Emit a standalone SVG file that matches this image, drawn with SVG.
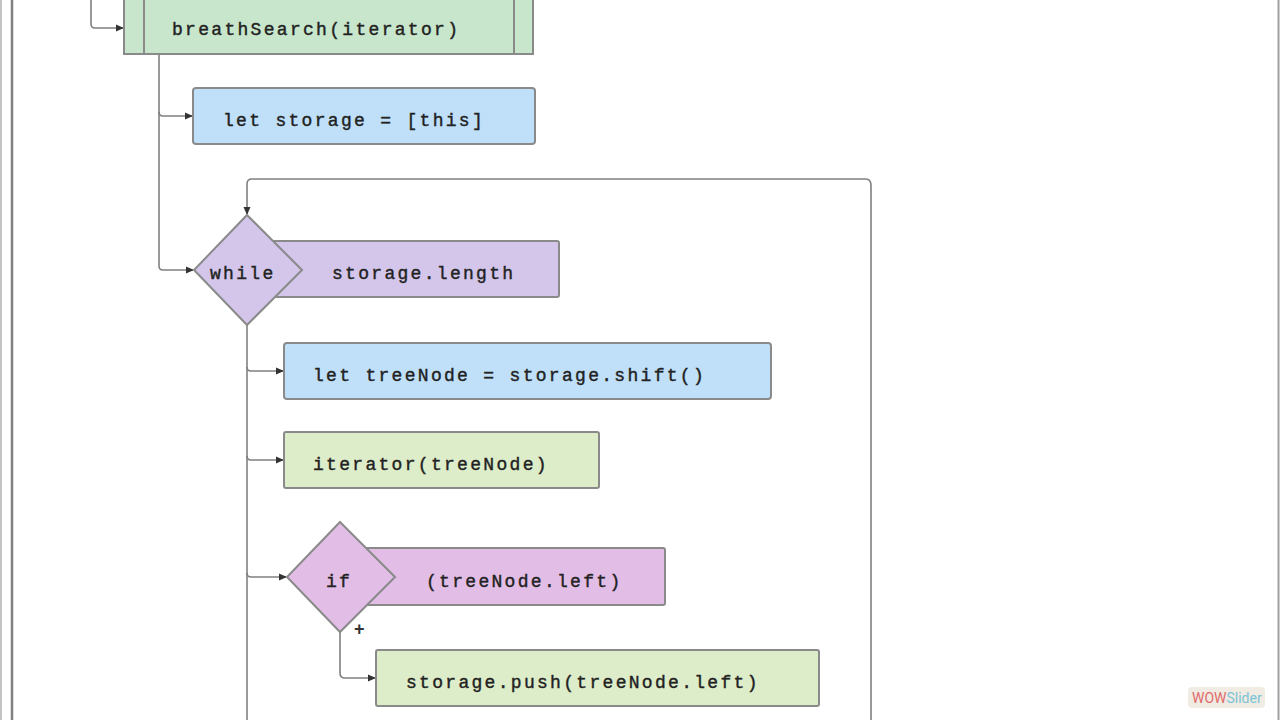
<svg xmlns="http://www.w3.org/2000/svg" width="1280" height="720" viewBox="0 0 1280 720">
<defs>
<marker id="arr" markerWidth="8" markerHeight="8" refX="7" refY="4" orient="auto" markerUnits="userSpaceOnUse">
<path d="M0,0.5 L8,4 L0,7.5 Z" fill="#333"/>
</marker>
<style>
.box{stroke:#8a8a8a;stroke-width:2}
.blue{fill:#bfe0f8}
.green{fill:#deedc9}
.fn{fill:#c8e6cb}
.purple{fill:#d3c6ea}
.pink{fill:#e2bde6}
.t{font-family:"Liberation Mono","DejaVu Sans Mono",monospace;font-size:18px;letter-spacing:2.3px;fill:#222;stroke:#222;stroke-width:0.4}
.c{fill:none;stroke:#808080;stroke-width:1.6}
</style>
</defs>
<rect width="1280" height="720" fill="#fff"/>
<line x1="1" y1="0" x2="1" y2="720" stroke="#b0b0b0" stroke-width="1.5"/>
<line x1="12" y1="0" x2="12" y2="720" stroke="#808080" stroke-width="2.5"/>
<line x1="1278.5" y1="0" x2="1278.5" y2="720" stroke="#a0a0a0" stroke-width="2"/>

<g id="connectors">
<path class="c" d="M91,0 V24 Q91,28 95,28 H123" marker-end="url(#arr)"/>
<path class="c" d="M159,55 V266 Q159,270 163,270 H193" marker-end="url(#arr)"/>
<path class="c" d="M159,112 Q159,116 163,116 H192" marker-end="url(#arr)"/>
<path class="c" d="M871,720 V186 Q871,179 866,179 H252 Q247,179 247,184 V214" marker-end="url(#arr)"/>
<path class="c" d="M247,325 V720"/>
<path class="c" d="M247,367 Q247,371 251,371 H283" marker-end="url(#arr)"/>
<path class="c" d="M247,456 Q247,460 251,460 H283" marker-end="url(#arr)"/>
<path class="c" d="M247,573 Q247,577 251,577 H286" marker-end="url(#arr)"/>
<path class="c" d="M340,632 V673 Q340,678 345,678 H375" marker-end="url(#arr)"/>
</g>

<g id="breathSearch">
<rect class="box fn" x="124" y="-1" width="409" height="55"/>
<line x1="144" y1="0" x2="144" y2="54" stroke="#8a8a8a" stroke-width="2"/>
<line x1="514" y1="0" x2="514" y2="54" stroke="#8a8a8a" stroke-width="2"/>
<text class="t" x="172" y="35">breathSearch(iterator)</text>
</g>

<g id="letStorage">
<rect class="box blue" x="193" y="88" width="342" height="56" rx="3"/>
<text class="t" x="223" y="126">let storage = [this]</text>
</g>

<g id="while">
<rect class="box purple" x="262" y="241" width="297" height="56" rx="2"/>
<polygon class="box purple" points="247,215 302,270 247,325 194,270"/>
<text class="t" x="210" y="279">while</text>
<text class="t" x="332" y="279">storage.length</text>
</g>

<g id="letTreeNode">
<rect class="box blue" x="284" y="343" width="487" height="56" rx="3"/>
<text class="t" x="313" y="381">let treeNode = storage.shift()</text>
</g>

<g id="iteratorCall">
<rect class="box green" x="284" y="432" width="315" height="56" rx="2"/>
<text class="t" x="313" y="470">iterator(treeNode)</text>
</g>

<g id="ifLeft">
<rect class="box pink" x="360" y="548" width="305" height="57" rx="2"/>
<polygon class="box pink" points="340,522 395,577 340,632 287,577"/>
<text class="t" x="326" y="587">if</text>
<text class="t" x="426" y="587">(treeNode.left)</text>
<text x="354" y="635" font-family="Liberation Sans, sans-serif" font-size="18" font-weight="bold" fill="#333">+</text>
</g>

<g id="pushLeft">
<rect class="box green" x="376" y="650" width="443" height="56" rx="2"/>
<text class="t" x="406" y="688">storage.push(treeNode.left)</text>
</g>

<g id="watermark">
<rect x="1188" y="687" width="77" height="21" rx="4" fill="#f0ebe3"/>
<text x="1192" y="703" font-family="Roboto, Liberation Sans, sans-serif" font-size="14" fill="#e06a6a">WOW<tspan fill="#7cc4d6">Slider</tspan></text>
</g>
</svg>
